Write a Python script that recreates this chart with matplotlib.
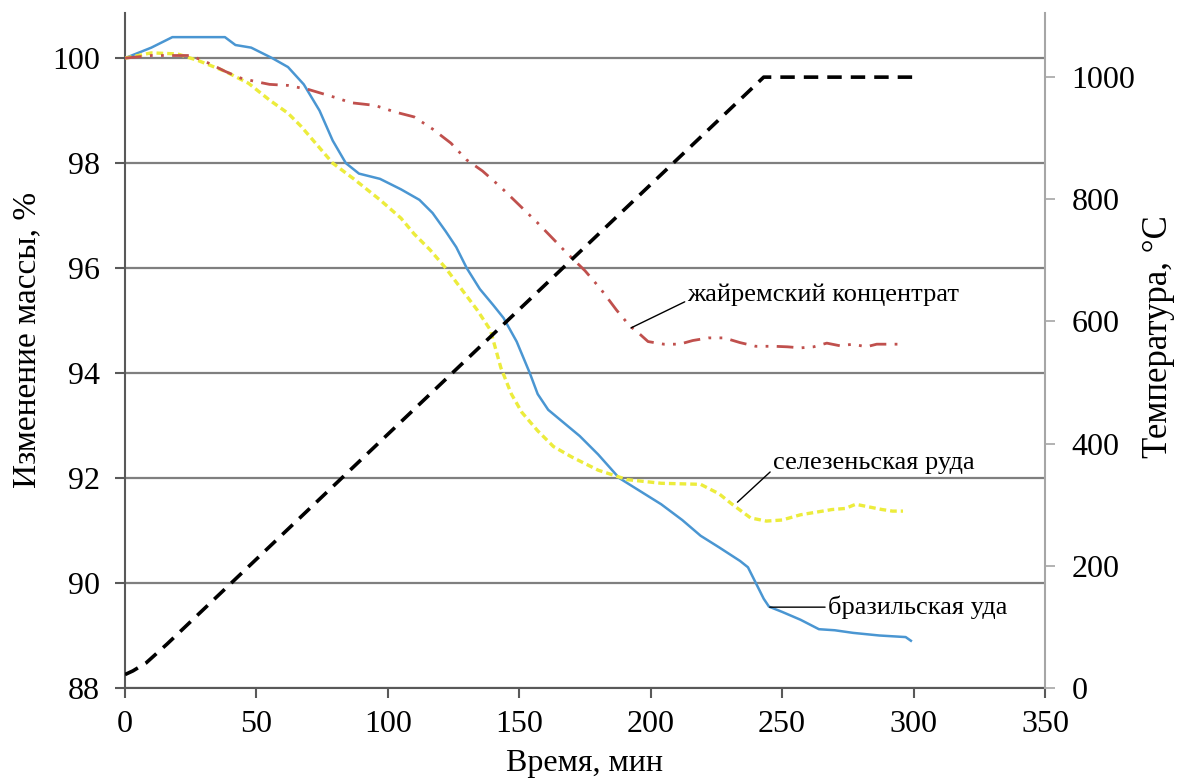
import matplotlib.pyplot as plt

plt.rcParams['font.family'] = ['Liberation Serif', 'DejaVu Serif']

# time, min
x_braz = [0, 5, 10, 18, 38, 42, 48, 56, 62, 68, 74, 79, 84, 89, 97, 105, 112, 117, 122, 126,
          130, 135, 140, 144, 149, 154, 157, 161, 167, 173, 180, 188, 196, 204, 212, 219,
          226, 234, 237, 240, 243, 245, 250, 257, 264, 270, 277, 287, 297, 299]
y_braz = [100.0, 100.1, 100.2, 100.4, 100.4, 100.25, 100.2, 100.0, 99.83, 99.5, 99.0, 98.43,
          98.0, 97.8, 97.7, 97.5, 97.3, 97.05, 96.7, 96.4, 96.0, 95.6, 95.3, 95.05, 94.6, 94.0,
          93.6, 93.3, 93.05, 92.8, 92.45, 92.0, 91.75, 91.5, 91.2, 90.9, 90.68, 90.42, 90.3,
          90.0, 89.7, 89.55, 89.45, 89.3, 89.12, 89.1, 89.05, 89.0, 88.97, 88.9]

x_sel = [0, 5, 10, 20, 28, 38, 47, 55, 62, 67, 73, 79, 87, 97, 105, 110, 116, 122, 128, 134,
         139, 143, 147, 151, 157, 163, 170, 180, 191, 204, 219, 226, 231, 238, 244, 250, 257,
         263, 269, 274, 278, 283, 288, 292, 296]
y_sel = [100.0, 100.05, 100.1, 100.08, 99.95, 99.75, 99.52, 99.2, 98.95, 98.7, 98.35, 98.0,
         97.7, 97.3, 96.95, 96.65, 96.35, 96.0, 95.6, 95.2, 94.82, 94.1, 93.6, 93.25, 92.9,
         92.6, 92.4, 92.15, 91.97, 91.9, 91.88, 91.7, 91.5, 91.24, 91.18, 91.2, 91.3, 91.35,
         91.4, 91.42, 91.5, 91.45, 91.4, 91.37, 91.37]

x_zh = [0, 10, 25, 32, 38, 44, 50, 55, 62, 70, 80, 86, 95, 103, 110, 117, 124, 130, 136, 143,
        150, 157, 163, 168, 175, 181, 187, 192, 195, 199, 205, 211, 216, 222, 228, 234, 240,
        247, 252, 257, 262, 267, 272, 277, 282, 286, 290, 295]
y_zh = [100.0, 100.05, 100.05, 99.9, 99.75, 99.62, 99.55, 99.5, 99.48, 99.4, 99.25, 99.15,
        99.1, 98.97, 98.88, 98.65, 98.38, 98.06, 97.85, 97.54, 97.2, 96.86, 96.55, 96.29,
        95.95, 95.6, 95.2, 94.9, 94.78, 94.6, 94.55, 94.55, 94.62, 94.67, 94.67, 94.58,
        94.51, 94.51, 94.5, 94.48, 94.5, 94.57, 94.52, 94.55, 94.5, 94.55, 94.55, 94.55]

# temperature, °C
x_temp = [0, 3, 8, 16, 243, 300]
y_temp = [22, 28, 41, 72, 1000, 1000]

fig = plt.figure(figsize=(11.83, 7.78), dpi=100)
ax = fig.add_axes([0.1057, 0.1157, 0.7776, 0.8676])

ax.plot(x_braz, y_braz, color='#4a96d2', lw=1.8, zorder=3)
ax.plot(x_sel, y_sel, color='#ecec3c', lw=2.4, ls=(0, (2, 1.2)), zorder=3)
ax.plot(x_zh, y_zh, color='#c0504d', lw=2.0, ls=(0, (6, 3, 1, 3, 1, 3)), zorder=3)

ax.set_xlim(0, 350)
ax.set_ylim(88, 100.86)
ax.set_xticks(range(0, 351, 50))
ax.set_yticks(range(88, 101, 2))
ax.grid(axis='y', color='#7f7f7f', lw=1.6)
ax.set_axisbelow(True)
for s in ['left', 'bottom']:
    ax.spines[s].set_color('#595959')
    ax.spines[s].set_linewidth(1.5)
ax.spines['top'].set_visible(False)
ax.spines['right'].set_visible(False)
ax.tick_params(axis='both', labelsize=23, length=7, width=1.5, color='#595959')
ax.tick_params(axis='y', pad=11)
ax.tick_params(axis='x', pad=9)

ax.set_xlabel('Время, мин', fontsize=23)
ax.set_ylabel('Изменение массы, %', fontsize=24)
ax.xaxis.set_label_coords(0.5, -0.091)
ax.yaxis.set_label_coords(-0.0905, 0.516)

ax2 = ax.twinx()
ax2.plot(x_temp, y_temp, color='black', lw=2.6, ls=(0, (4, 2.5)))
ax2.set_ylim(0, 1105)
ax2.set_yticks(range(0, 1001, 200))
for s in ['left', 'top', 'bottom']:
    ax2.spines[s].set_visible(False)
ax2.spines['right'].set_color('#a6a6a6')
ax2.spines['right'].set_linewidth(1.5)
ax2.tick_params(axis='y', labelsize=23, length=7, width=1.2, color='#a6a6a6', pad=12)
ax2.set_ylabel('Температура, °C', fontsize=25)
ax2.yaxis.set_label_coords(1.105, 0.52)

arrow = dict(arrowstyle='-', color='black', lw=1, shrinkA=0, shrinkB=0)
ax.annotate('жайремский концентрат', xy=(192.5, 94.86), xytext=(214, 95.49),
            fontsize=19, va='center', ha='left', zorder=5,
            arrowprops=dict(arrow, relpos=(0, 0.25)))
ax.annotate('селезеньская руда', xy=(233, 91.54), xytext=(246.5, 92.29),
            fontsize=19, va='center', ha='left', zorder=5,
            arrowprops=dict(arrow, relpos=(0, 0.2)))
ax.annotate('бразильская уда', xy=(245.3, 89.54), xytext=(267.4, 89.54),
            fontsize=19, va='center', ha='left', zorder=5,
            arrowprops=dict(arrow, relpos=(0, 0.5)))

fig.savefig('out.png', dpi=100)
